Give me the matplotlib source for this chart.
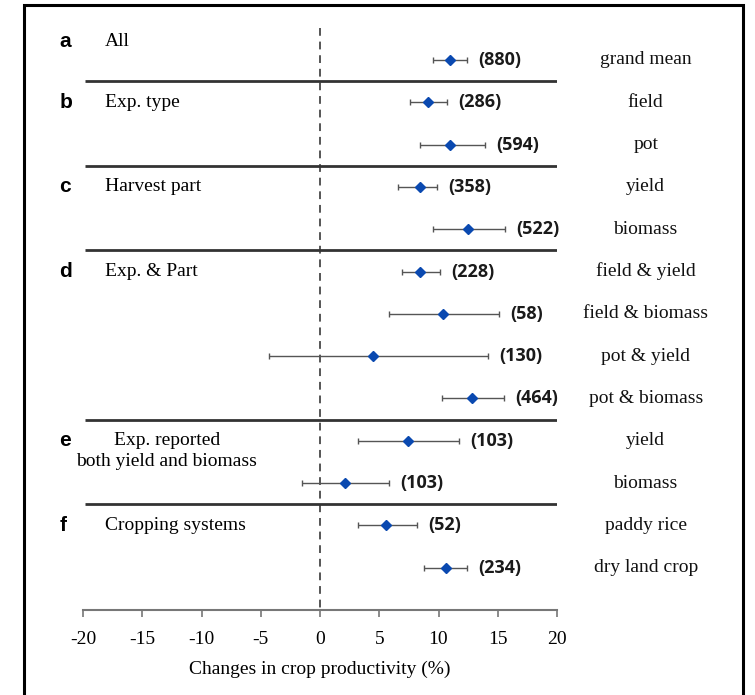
import matplotlib
matplotlib.use("Agg")
import matplotlib.pyplot as plt
from matplotlib.patches import Rectangle
import numpy as np

# effect sizes (%) with 95% CI and number of observations
labels = ["grand mean", "field", "pot", "yield", "biomass",
          "field & yield", "field & biomass", "pot & yield", "pot & biomass",
          "yield", "biomass", "paddy rice", "dry land crop"]
means = [11.0, 9.1, 11.0, 8.4, 12.5, 8.4, 10.4, 4.5, 12.8, 7.4, 2.1, 5.6, 10.6]
lower = [9.5, 7.6, 8.4, 6.6, 9.5, 6.9, 5.8, -4.3, 10.3, 3.2, -1.5, 3.2, 8.8]
upper = [12.4, 10.7, 13.9, 9.9, 15.6, 10.1, 15.1, 14.2, 15.5, 11.7, 5.8, 8.2, 12.4]
counts = [880, 286, 594, 358, 522, 228, 58, 130, 464, 103, 103, 52, 234]

panel_letters = ["a", "b", "c", "d", "e", "f"]
panel_titles = ["All", "Exp. type", "Harvest part", "Exp. & Part",
                "Exp. reported\nboth yield and biomass", "Cropping systems"]
panel_rows = [-0.43, 1, 3, 5, 9, 11]
separators = [0.5, 2.5, 4.5, 8.5, 10.5]

xticks = [-20, -15, -10, -5, 0, 5, 10, 15, 20]

serif = "Liberation Serif"

fig = plt.figure(figsize=(7.55, 6.95), dpi=100)
ax = fig.add_axes([83 / 755, 1 - 610 / 695, 474 / 755, 590 / 695])

rows = np.arange(len(labels))
m = np.array(means)
err = np.vstack([m - np.array(lower), np.array(upper) - m])

ax.errorbar(m, rows, xerr=err, fmt="none", ecolor="#555555", elinewidth=1.0,
            capsize=2.5, capthick=1.0, zorder=3)
ax.plot(m, rows, "D", color="#0a49b0", markersize=5.5, zorder=4)

# zero line
ax.vlines(0, -0.75, 13, colors="#555555", linestyles=(0, (4, 3)), lw=1.4, zorder=2)

# panel separators
ax.hlines(separators, -19.8, 20.2, colors="#333333", lw=2.0, zorder=2)

# sample sizes next to each CI
for r, (u, n) in enumerate(zip(upper, counts)):
    ax.annotate(f"({n})", xy=(u, r), xytext=(8, 0), textcoords="offset points",
                ha="left", va="center", fontsize=13, family="Open Sans",
                weight="bold", color="#1a1a1a")

ytr = ax.get_yaxis_transform()
for r, lab in enumerate(labels):
    ax.text(1.187, r, lab, transform=ytr, ha="center", va="center",
            fontsize=14, family=serif, color="#111111", clip_on=False)

for letter, title, r in zip(panel_letters, panel_titles, panel_rows):
    ax.text(-0.05, r, letter, transform=ytr, ha="left", va="center",
            fontsize=15, family="Liberation Sans", weight="bold", clip_on=False)
    if "\n" in title:
        first, second = title.split("\n")
        ax.text(0.177, r, first, transform=ytr, ha="center", va="center",
                fontsize=14, family=serif, clip_on=False)
        ax.text(0.177, r + 0.5, second, transform=ytr, ha="center", va="center",
                fontsize=14, family=serif, clip_on=False)
    else:
        ax.text(0.047, r, title, transform=ytr, ha="left", va="center",
                fontsize=14, family=serif, clip_on=False)

ax.set_xlim(-20, 20)
ax.set_ylim(13, -0.945)
for s in ["top", "left", "right"]:
    ax.spines[s].set_visible(False)
ax.spines["bottom"].set_color("#777777")
ax.spines["bottom"].set_linewidth(1.5)
ax.set_yticks([])
ax.set_xticks(xticks)
ax.set_xticklabels([str(t) for t in xticks], family=serif, fontsize=14)
ax.tick_params(axis="x", direction="out", length=5, width=1.2, color="#777777", pad=10)
ax.set_xlabel("Changes in crop productivity (%)", family=serif, fontsize=14, labelpad=9)
ax.patch.set_visible(False)

# outer frame (open at the bottom)
fig.patches.append(Rectangle((24 / 755, -0.1), 719 / 755, 1.1 - 5 / 695,
                             transform=fig.transFigure, fill=False,
                             edgecolor="black", lw=2.2))

fig.savefig("out.png", dpi=100)
